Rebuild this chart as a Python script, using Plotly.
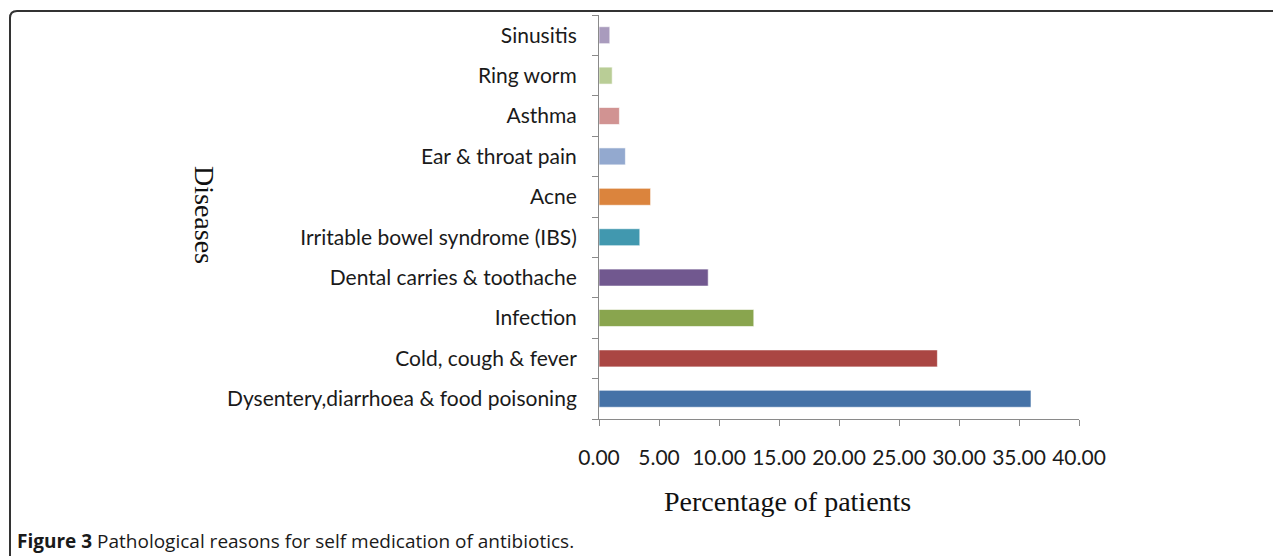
import plotly.graph_objects as go

categories = [
    "Dysentery,diarrhoea & food poisoning",
    "Cold, cough & fever",
    "Infection",
    "Dental carries & toothache",
    "Irritable bowel syndrome (IBS)",
    "Acne",
    "Ear & throat pain",
    "Asthma",
    "Ring worm",
    "Sinusitis",
]
percentages = [36.0, 28.2, 12.9, 9.1, 3.4, 4.3, 2.2, 1.7, 1.1, 0.9]
bar_colors = ["#4572A7", "#AA4643", "#89A54E", "#71588F", "#4198AF",
              "#DB843D", "#93A9CF", "#D19392", "#B9CD96", "#A99BBD"]
x_ticks = [0, 5, 10, 15, 20, 25, 30, 35, 40]
x_tick_labels = ["%.2f" % v for v in x_ticks]

OFF = 8  # page body margin
W, H = 1281 - OFF, 556 - OFF
L, R, T, B = 599, 1079, 15, 419  # plot area pixel bounds (screen coords)


def px(x):
    return (x - L) / (R - L)


def py(y):
    return (B - y) / (B - T)


fig = go.Figure(go.Bar(
    x=percentages, y=categories, orientation="h",
    marker=dict(color=bar_colors, line=dict(color="rgba(255,255,255,0.6)", width=1)),
    width=0.42,
))

r = 7
path = (f"M {px(10)} {py(600)} L {px(10)} {py(11 + r)} "
        f"Q {px(10)} {py(11)} {px(10 + r)} {py(11)} L {px(1300)} {py(11)}")

fig.update_layout(
    width=W, height=H,
    margin=dict(l=L - OFF, r=W - (R - OFF), t=T - OFF, b=H - (B - OFF), pad=0),
    paper_bgcolor="white", plot_bgcolor="white",
    showlegend=False,
    font=dict(family="Lato", size=21, color="#1a1a1a"),
    xaxis=dict(
        range=[0, 40], tickvals=x_ticks, ticktext=x_tick_labels,
        showgrid=False, zeroline=False, showline=True, linecolor="#8a8a8a", linewidth=1,
        ticks="outside", ticklen=6, tickcolor="#8a8a8a",
        ticklabelstandoff=14,
        tickfont=dict(family="Lato", size=21, color="#1a1a1a"),
    ),
    yaxis=dict(
        categoryorder="array", categoryarray=categories,
        showgrid=False, zeroline=False, showline=True, linecolor="#8a8a8a", linewidth=1,
        ticks="outside", ticklen=6, tickcolor="#8a8a8a", tickson="boundaries",
        ticklabelstandoff=17,
        tickfont=dict(family="Lato", size=21, color="#1a1a1a"),
    ),
    shapes=[dict(type="path", xref="paper", yref="paper", path=path,
                 line=dict(color="#333333", width=2))],
    annotations=[
        dict(text="Diseases", xref="paper", yref="paper", x=px(205), y=py(215),
             xanchor="center", yanchor="middle",
             textangle=90, showarrow=False,
             font=dict(family="Liberation Serif", size=28, color="#111111")),
        dict(text="Percentage of patients", xref="paper", yref="paper", x=px(787), y=py(501),
             xanchor="center", yanchor="middle",
             showarrow=False,
             font=dict(family="Liberation Serif", size=28, color="#111111")),
        dict(text="<b>Figure 3</b> Pathological reasons for self medication of antibiotics.",
             xref="paper", yref="paper", x=px(15), y=py(541),
             xanchor="left", yanchor="middle",
             showarrow=False,
             font=dict(family="Open Sans", size=19, color="#1a1a1a")),
    ],
)

fig.write_html("out.html")
